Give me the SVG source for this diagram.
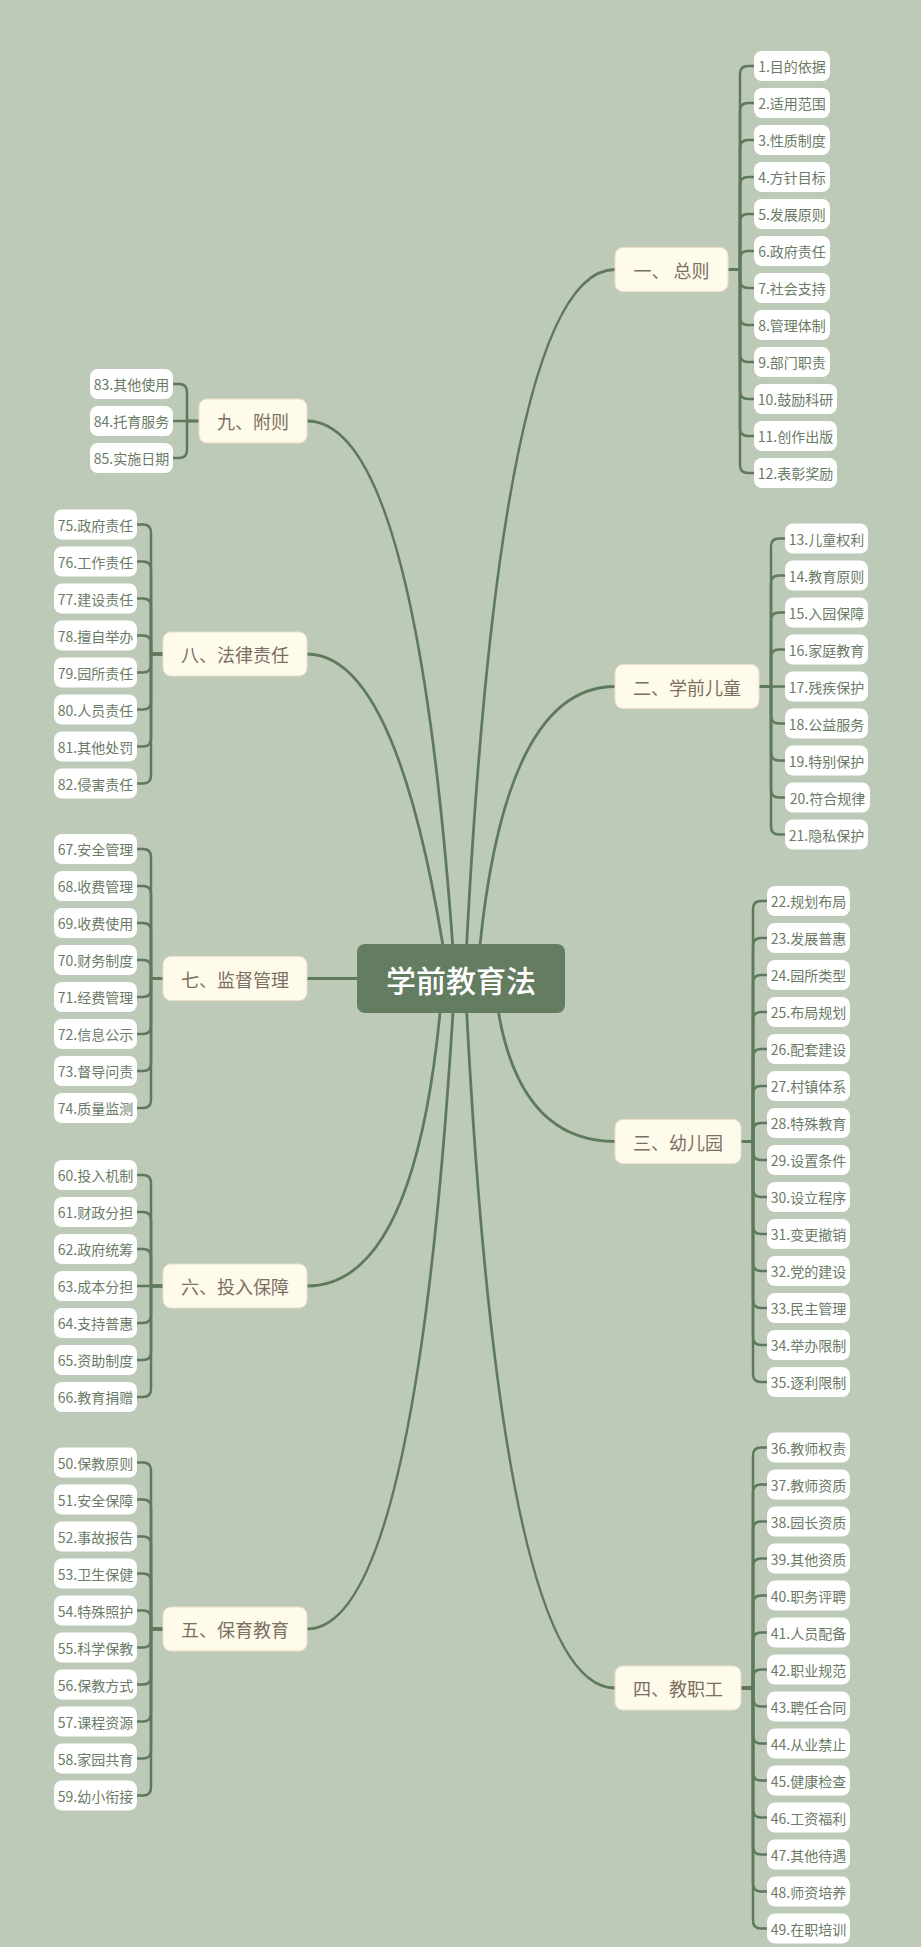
<svg xmlns="http://www.w3.org/2000/svg" width="921" height="1947" viewBox="0 0 921 1947">
<style>
text{font-family:"Noto Sans CJK SC","Noto Sans",sans-serif;dominant-baseline:central;text-anchor:middle}
.conn path{fill:none;stroke:#5f7a5b;stroke-width:2.5;stroke-linecap:round;stroke-linejoin:round}
.main path{fill:none;stroke:#5f7a5b;stroke-width:2.8;stroke-linecap:round}
.leaf rect{fill:#ffffff}
.leaf text{font-size:14px;fill:#6a7b66}
.branch rect{fill:#fffbea;stroke:#ecdfc6;stroke-width:1}
.branch text{font-size:18px;fill:#7b6f63}
</style>
<rect width="921" height="1947" fill="#bdcab8"/>
<g id="connectors">
<g class="main">
<path d="M465 978Q499 269.5 615 269.5"/>
<path d="M477 978Q500 686.5 615 686.5"/>
<path d="M494 978Q509 1141.5 615 1141.5"/>
<path d="M465 978Q499 1688 615 1688"/>
<path d="M455 978Q418 421 307 421"/>
<path d="M448 978Q400 654 307 654"/>
<path d="M357 978.5H307"/>
<path d="M443 978Q420 1286 307 1286"/>
<path d="M455 978Q418 1629 307 1629"/>
</g>
<g class="conn">
<path d="M728 269.5H740V74Q740 66 748 66H754"/>
<path d="M728 269.5H740V111Q740 103 748 103H754"/>
<path d="M728 269.5H740V148Q740 140 748 140H754"/>
<path d="M728 269.5H740V185Q740 177 748 177H754"/>
<path d="M728 269.5H740V222Q740 214 748 214H754"/>
<path d="M728 269.5H740V259Q740 251 748 251H754"/>
<path d="M728 269.5H740V280Q740 288 748 288H754"/>
<path d="M728 269.5H740V317Q740 325 748 325H754"/>
<path d="M728 269.5H740V354Q740 362 748 362H754"/>
<path d="M728 269.5H740V391Q740 399 748 399H754"/>
<path d="M728 269.5H740V428Q740 436 748 436H754"/>
<path d="M728 269.5H740V465Q740 473 748 473H754"/>

<path d="M759 686.5H771V546.5Q771 538.5 779 538.5H785"/>
<path d="M759 686.5H771V583.5Q771 575.5 779 575.5H785"/>
<path d="M759 686.5H771V620.5Q771 612.5 779 612.5H785"/>
<path d="M759 686.5H771V657.5Q771 649.5 779 649.5H785"/>
<path d="M759 686.5H785"/>
<path d="M759 686.5H771V715.5Q771 723.5 779 723.5H785"/>
<path d="M759 686.5H771V752.5Q771 760.5 779 760.5H785"/>
<path d="M759 686.5H771V789.5Q771 797.5 779 797.5H785"/>
<path d="M759 686.5H771V826.5Q771 834.5 779 834.5H785"/>

<path d="M741 1141.5H753V909Q753 901 761 901H767"/>
<path d="M741 1141.5H753V946Q753 938 761 938H767"/>
<path d="M741 1141.5H753V983Q753 975 761 975H767"/>
<path d="M741 1141.5H753V1020Q753 1012 761 1012H767"/>
<path d="M741 1141.5H753V1057Q753 1049 761 1049H767"/>
<path d="M741 1141.5H753V1094Q753 1086 761 1086H767"/>
<path d="M741 1141.5H753V1131Q753 1123 761 1123H767"/>
<path d="M741 1141.5H753V1152Q753 1160 761 1160H767"/>
<path d="M741 1141.5H753V1189Q753 1197 761 1197H767"/>
<path d="M741 1141.5H753V1226Q753 1234 761 1234H767"/>
<path d="M741 1141.5H753V1263Q753 1271 761 1271H767"/>
<path d="M741 1141.5H753V1300Q753 1308 761 1308H767"/>
<path d="M741 1141.5H753V1337Q753 1345 761 1345H767"/>
<path d="M741 1141.5H753V1374Q753 1382 761 1382H767"/>

<path d="M741 1688H753V1455.5Q753 1447.5 761 1447.5H767"/>
<path d="M741 1688H753V1492.5Q753 1484.5 761 1484.5H767"/>
<path d="M741 1688H753V1529.5Q753 1521.5 761 1521.5H767"/>
<path d="M741 1688H753V1566.5Q753 1558.5 761 1558.5H767"/>
<path d="M741 1688H753V1603.5Q753 1595.5 761 1595.5H767"/>
<path d="M741 1688H753V1640.5Q753 1632.5 761 1632.5H767"/>
<path d="M741 1688H753V1677.5Q753 1669.5 761 1669.5H767"/>
<path d="M741 1688H753V1698.5Q753 1706.5 761 1706.5H767"/>
<path d="M741 1688H753V1735.5Q753 1743.5 761 1743.5H767"/>
<path d="M741 1688H753V1772.5Q753 1780.5 761 1780.5H767"/>
<path d="M741 1688H753V1809.5Q753 1817.5 761 1817.5H767"/>
<path d="M741 1688H753V1846.5Q753 1854.5 761 1854.5H767"/>
<path d="M741 1688H753V1883.5Q753 1891.5 761 1891.5H767"/>
<path d="M741 1688H753V1920.5Q753 1928.5 761 1928.5H767"/>

<path d="M199 421H187V392Q187 384 179 384H173"/>
<path d="M199 421H173"/>
<path d="M199 421H187V450Q187 458 179 458H173"/>

<path d="M163 654H151V532.5Q151 524.5 143 524.5H137"/>
<path d="M163 654H151V569.5Q151 561.5 143 561.5H137"/>
<path d="M163 654H151V606.5Q151 598.5 143 598.5H137"/>
<path d="M163 654H151V643.5Q151 635.5 143 635.5H137"/>
<path d="M163 654H151V664.5Q151 672.5 143 672.5H137"/>
<path d="M163 654H151V701.5Q151 709.5 143 709.5H137"/>
<path d="M163 654H151V738.5Q151 746.5 143 746.5H137"/>
<path d="M163 654H151V775.5Q151 783.5 143 783.5H137"/>

<path d="M163 978.5H151V857Q151 849 143 849H137"/>
<path d="M163 978.5H151V894Q151 886 143 886H137"/>
<path d="M163 978.5H151V931Q151 923 143 923H137"/>
<path d="M163 978.5H151V968Q151 960 143 960H137"/>
<path d="M163 978.5H151V989Q151 997 143 997H137"/>
<path d="M163 978.5H151V1026Q151 1034 143 1034H137"/>
<path d="M163 978.5H151V1063Q151 1071 143 1071H137"/>
<path d="M163 978.5H151V1100Q151 1108 143 1108H137"/>

<path d="M163 1286H151V1183Q151 1175 143 1175H137"/>
<path d="M163 1286H151V1220Q151 1212 143 1212H137"/>
<path d="M163 1286H151V1257Q151 1249 143 1249H137"/>
<path d="M163 1286H137"/>
<path d="M163 1286H151V1315Q151 1323 143 1323H137"/>
<path d="M163 1286H151V1352Q151 1360 143 1360H137"/>
<path d="M163 1286H151V1389Q151 1397 143 1397H137"/>

<path d="M163 1629H151V1470.5Q151 1462.5 143 1462.5H137"/>
<path d="M163 1629H151V1507.5Q151 1499.5 143 1499.5H137"/>
<path d="M163 1629H151V1544.5Q151 1536.5 143 1536.5H137"/>
<path d="M163 1629H151V1581.5Q151 1573.5 143 1573.5H137"/>
<path d="M163 1629H151V1618.5Q151 1610.5 143 1610.5H137"/>
<path d="M163 1629H151V1639.5Q151 1647.5 143 1647.5H137"/>
<path d="M163 1629H151V1676.5Q151 1684.5 143 1684.5H137"/>
<path d="M163 1629H151V1713.5Q151 1721.5 143 1721.5H137"/>
<path d="M163 1629H151V1750.5Q151 1758.5 143 1758.5H137"/>
<path d="M163 1629H151V1787.5Q151 1795.5 143 1795.5H137"/>
</g>
</g>

<g id="root">
<rect x="357" y="944" width="208" height="69" rx="8" fill="#647c5f"/>
<text x="461" y="978.5" font-size="30" font-weight="500" fill="#ffffff">学前教育法</text>
</g>

<g id="b1" class="branch"><rect x="615" y="247.5" width="113" height="44" rx="8"/><text x="671.5" y="269.5">一、 总则</text></g>
<g id="b2" class="branch"><rect x="615" y="664.5" width="144" height="44" rx="8"/><text x="687" y="686.5">二、学前儿童</text></g>
<g id="b3" class="branch"><rect x="615" y="1119.5" width="126" height="44" rx="8"/><text x="678" y="1141.5">三、幼儿园</text></g>
<g id="b4" class="branch"><rect x="615" y="1666" width="126" height="44" rx="8"/><text x="678" y="1688">四、教职工</text></g>
<g id="b5" class="branch"><rect x="163" y="1607" width="144" height="44" rx="8"/><text x="235" y="1629">五、保育教育</text></g>
<g id="b6" class="branch"><rect x="163" y="1264" width="144" height="44" rx="8"/><text x="235" y="1286">六、投入保障</text></g>
<g id="b7" class="branch"><rect x="163" y="956.5" width="144" height="44" rx="8"/><text x="235" y="978.5">七、监督管理</text></g>
<g id="b8" class="branch"><rect x="163" y="632" width="144" height="44" rx="8"/><text x="235" y="654">八、法律责任</text></g>
<g id="b9" class="branch"><rect x="199" y="399" width="108" height="44" rx="8"/><text x="253" y="421">九、附则</text></g>

<g id="n1" class="leaf"><rect x="754" y="51" width="76" height="30" rx="8"/><text x="792" y="66">1.目的依据</text></g>
<g id="n2" class="leaf"><rect x="754" y="88" width="76" height="30" rx="8"/><text x="792" y="103">2.适用范围</text></g>
<g id="n3" class="leaf"><rect x="754" y="125" width="76" height="30" rx="8"/><text x="792" y="140">3.性质制度</text></g>
<g id="n4" class="leaf"><rect x="754" y="162" width="76" height="30" rx="8"/><text x="792" y="177">4.方针目标</text></g>
<g id="n5" class="leaf"><rect x="754" y="199" width="76" height="30" rx="8"/><text x="792" y="214">5.发展原则</text></g>
<g id="n6" class="leaf"><rect x="754" y="236" width="76" height="30" rx="8"/><text x="792" y="251">6.政府责任</text></g>
<g id="n7" class="leaf"><rect x="754" y="273" width="76" height="30" rx="8"/><text x="792" y="288">7.社会支持</text></g>
<g id="n8" class="leaf"><rect x="754" y="310" width="76" height="30" rx="8"/><text x="792" y="325">8.管理体制</text></g>
<g id="n9" class="leaf"><rect x="754" y="347" width="76" height="30" rx="8"/><text x="792" y="362">9.部门职责</text></g>
<g id="n10" class="leaf"><rect x="754" y="384" width="83" height="30" rx="8"/><text x="795.5" y="399">10.鼓励科研</text></g>
<g id="n11" class="leaf"><rect x="754" y="421" width="83" height="30" rx="8"/><text x="795.5" y="436">11.创作出版</text></g>
<g id="n12" class="leaf"><rect x="754" y="458" width="83" height="30" rx="8"/><text x="795.5" y="473">12.表彰奖励</text></g>

<g id="n13" class="leaf"><rect x="785" y="523.5" width="83" height="30" rx="8"/><text x="826.5" y="538.5">13.儿童权利</text></g>
<g id="n14" class="leaf"><rect x="785" y="560.5" width="83" height="30" rx="8"/><text x="826.5" y="575.5">14.教育原则</text></g>
<g id="n15" class="leaf"><rect x="785" y="597.5" width="83" height="30" rx="8"/><text x="826.5" y="612.5">15.入园保障</text></g>
<g id="n16" class="leaf"><rect x="785" y="634.5" width="83" height="30" rx="8"/><text x="826.5" y="649.5">16.家庭教育</text></g>
<g id="n17" class="leaf"><rect x="785" y="671.5" width="83" height="30" rx="8"/><text x="826.5" y="686.5">17.残疾保护</text></g>
<g id="n18" class="leaf"><rect x="785" y="708.5" width="83" height="30" rx="8"/><text x="826.5" y="723.5">18.公益服务</text></g>
<g id="n19" class="leaf"><rect x="785" y="745.5" width="83" height="30" rx="8"/><text x="826.5" y="760.5">19.特别保护</text></g>
<g id="n20" class="leaf"><rect x="785" y="782.5" width="85" height="30" rx="8"/><text x="827.5" y="797.5">20.符合规律</text></g>
<g id="n21" class="leaf"><rect x="785" y="819.5" width="83" height="30" rx="8"/><text x="826.5" y="834.5">21.隐私保护</text></g>

<g id="n22" class="leaf"><rect x="767" y="886" width="83" height="30" rx="8"/><text x="808.5" y="901">22.规划布局</text></g>
<g id="n23" class="leaf"><rect x="767" y="923" width="83" height="30" rx="8"/><text x="808.5" y="938">23.发展普惠</text></g>
<g id="n24" class="leaf"><rect x="767" y="960" width="83" height="30" rx="8"/><text x="808.5" y="975">24.园所类型</text></g>
<g id="n25" class="leaf"><rect x="767" y="997" width="83" height="30" rx="8"/><text x="808.5" y="1012">25.布局规划</text></g>
<g id="n26" class="leaf"><rect x="767" y="1034" width="83" height="30" rx="8"/><text x="808.5" y="1049">26.配套建设</text></g>
<g id="n27" class="leaf"><rect x="767" y="1071" width="83" height="30" rx="8"/><text x="808.5" y="1086">27.村镇体系</text></g>
<g id="n28" class="leaf"><rect x="767" y="1108" width="83" height="30" rx="8"/><text x="808.5" y="1123">28.特殊教育</text></g>
<g id="n29" class="leaf"><rect x="767" y="1145" width="83" height="30" rx="8"/><text x="808.5" y="1160">29.设置条件</text></g>
<g id="n30" class="leaf"><rect x="767" y="1182" width="83" height="30" rx="8"/><text x="808.5" y="1197">30.设立程序</text></g>
<g id="n31" class="leaf"><rect x="767" y="1219" width="83" height="30" rx="8"/><text x="808.5" y="1234">31.变更撤销</text></g>
<g id="n32" class="leaf"><rect x="767" y="1256" width="83" height="30" rx="8"/><text x="808.5" y="1271">32.党的建设</text></g>
<g id="n33" class="leaf"><rect x="767" y="1293" width="83" height="30" rx="8"/><text x="808.5" y="1308">33.民主管理</text></g>
<g id="n34" class="leaf"><rect x="767" y="1330" width="83" height="30" rx="8"/><text x="808.5" y="1345">34.举办限制</text></g>
<g id="n35" class="leaf"><rect x="767" y="1367" width="83" height="30" rx="8"/><text x="808.5" y="1382">35.逐利限制</text></g>

<g id="n36" class="leaf"><rect x="767" y="1432.5" width="83" height="30" rx="8"/><text x="808.5" y="1447.5">36.教师权责</text></g>
<g id="n37" class="leaf"><rect x="767" y="1469.5" width="83" height="30" rx="8"/><text x="808.5" y="1484.5">37.教师资质</text></g>
<g id="n38" class="leaf"><rect x="767" y="1506.5" width="83" height="30" rx="8"/><text x="808.5" y="1521.5">38.园长资质</text></g>
<g id="n39" class="leaf"><rect x="767" y="1543.5" width="83" height="30" rx="8"/><text x="808.5" y="1558.5">39.其他资质</text></g>
<g id="n40" class="leaf"><rect x="767" y="1580.5" width="83" height="30" rx="8"/><text x="808.5" y="1595.5">40.职务评聘</text></g>
<g id="n41" class="leaf"><rect x="767" y="1617.5" width="83" height="30" rx="8"/><text x="808.5" y="1632.5">41.人员配备</text></g>
<g id="n42" class="leaf"><rect x="767" y="1654.5" width="83" height="30" rx="8"/><text x="808.5" y="1669.5">42.职业规范</text></g>
<g id="n43" class="leaf"><rect x="767" y="1691.5" width="83" height="30" rx="8"/><text x="808.5" y="1706.5">43.聘任合同</text></g>
<g id="n44" class="leaf"><rect x="767" y="1728.5" width="83" height="30" rx="8"/><text x="808.5" y="1743.5">44.从业禁止</text></g>
<g id="n45" class="leaf"><rect x="767" y="1765.5" width="83" height="30" rx="8"/><text x="808.5" y="1780.5">45.健康检查</text></g>
<g id="n46" class="leaf"><rect x="767" y="1802.5" width="83" height="30" rx="8"/><text x="808.5" y="1817.5">46.工资福利</text></g>
<g id="n47" class="leaf"><rect x="767" y="1839.5" width="83" height="30" rx="8"/><text x="808.5" y="1854.5">47.其他待遇</text></g>
<g id="n48" class="leaf"><rect x="767" y="1876.5" width="83" height="30" rx="8"/><text x="808.5" y="1891.5">48.师资培养</text></g>
<g id="n49" class="leaf"><rect x="767" y="1913.5" width="83" height="30" rx="8"/><text x="808.5" y="1928.5">49.在职培训</text></g>

<g id="n50" class="leaf"><rect x="54" y="1447.5" width="83" height="30" rx="8"/><text x="95.5" y="1462.5">50.保教原则</text></g>
<g id="n51" class="leaf"><rect x="54" y="1484.5" width="83" height="30" rx="8"/><text x="95.5" y="1499.5">51.安全保障</text></g>
<g id="n52" class="leaf"><rect x="54" y="1521.5" width="83" height="30" rx="8"/><text x="95.5" y="1536.5">52.事故报告</text></g>
<g id="n53" class="leaf"><rect x="54" y="1558.5" width="83" height="30" rx="8"/><text x="95.5" y="1573.5">53.卫生保健</text></g>
<g id="n54" class="leaf"><rect x="54" y="1595.5" width="83" height="30" rx="8"/><text x="95.5" y="1610.5">54.特殊照护</text></g>
<g id="n55" class="leaf"><rect x="54" y="1632.5" width="83" height="30" rx="8"/><text x="95.5" y="1647.5">55.科学保教</text></g>
<g id="n56" class="leaf"><rect x="54" y="1669.5" width="83" height="30" rx="8"/><text x="95.5" y="1684.5">56.保教方式</text></g>
<g id="n57" class="leaf"><rect x="54" y="1706.5" width="83" height="30" rx="8"/><text x="95.5" y="1721.5">57.课程资源</text></g>
<g id="n58" class="leaf"><rect x="54" y="1743.5" width="83" height="30" rx="8"/><text x="95.5" y="1758.5">58.家园共育</text></g>
<g id="n59" class="leaf"><rect x="54" y="1780.5" width="83" height="30" rx="8"/><text x="95.5" y="1795.5">59.幼小衔接</text></g>

<g id="n60" class="leaf"><rect x="54" y="1160" width="83" height="30" rx="8"/><text x="95.5" y="1175">60.投入机制</text></g>
<g id="n61" class="leaf"><rect x="54" y="1197" width="83" height="30" rx="8"/><text x="95.5" y="1212">61.财政分担</text></g>
<g id="n62" class="leaf"><rect x="54" y="1234" width="83" height="30" rx="8"/><text x="95.5" y="1249">62.政府统筹</text></g>
<g id="n63" class="leaf"><rect x="54" y="1271" width="83" height="30" rx="8"/><text x="95.5" y="1286">63.成本分担</text></g>
<g id="n64" class="leaf"><rect x="54" y="1308" width="83" height="30" rx="8"/><text x="95.5" y="1323">64.支持普惠</text></g>
<g id="n65" class="leaf"><rect x="54" y="1345" width="83" height="30" rx="8"/><text x="95.5" y="1360">65.资助制度</text></g>
<g id="n66" class="leaf"><rect x="54" y="1382" width="83" height="30" rx="8"/><text x="95.5" y="1397">66.教育捐赠</text></g>

<g id="n67" class="leaf"><rect x="54" y="834" width="83" height="30" rx="8"/><text x="95.5" y="849">67.安全管理</text></g>
<g id="n68" class="leaf"><rect x="54" y="871" width="83" height="30" rx="8"/><text x="95.5" y="886">68.收费管理</text></g>
<g id="n69" class="leaf"><rect x="54" y="908" width="83" height="30" rx="8"/><text x="95.5" y="923">69.收费使用</text></g>
<g id="n70" class="leaf"><rect x="54" y="945" width="83" height="30" rx="8"/><text x="95.5" y="960">70.财务制度</text></g>
<g id="n71" class="leaf"><rect x="54" y="982" width="83" height="30" rx="8"/><text x="95.5" y="997">71.经费管理</text></g>
<g id="n72" class="leaf"><rect x="54" y="1019" width="83" height="30" rx="8"/><text x="95.5" y="1034">72.信息公示</text></g>
<g id="n73" class="leaf"><rect x="54" y="1056" width="83" height="30" rx="8"/><text x="95.5" y="1071">73.督导问责</text></g>
<g id="n74" class="leaf"><rect x="54" y="1093" width="83" height="30" rx="8"/><text x="95.5" y="1108">74.质量监测</text></g>

<g id="n75" class="leaf"><rect x="54" y="509.5" width="83" height="30" rx="8"/><text x="95.5" y="524.5">75.政府责任</text></g>
<g id="n76" class="leaf"><rect x="54" y="546.5" width="83" height="30" rx="8"/><text x="95.5" y="561.5">76.工作责任</text></g>
<g id="n77" class="leaf"><rect x="54" y="583.5" width="83" height="30" rx="8"/><text x="95.5" y="598.5">77.建设责任</text></g>
<g id="n78" class="leaf"><rect x="54" y="620.5" width="83" height="30" rx="8"/><text x="95.5" y="635.5">78.擅自举办</text></g>
<g id="n79" class="leaf"><rect x="54" y="657.5" width="83" height="30" rx="8"/><text x="95.5" y="672.5">79.园所责任</text></g>
<g id="n80" class="leaf"><rect x="54" y="694.5" width="83" height="30" rx="8"/><text x="95.5" y="709.5">80.人员责任</text></g>
<g id="n81" class="leaf"><rect x="54" y="731.5" width="83" height="30" rx="8"/><text x="95.5" y="746.5">81.其他处罚</text></g>
<g id="n82" class="leaf"><rect x="54" y="768.5" width="83" height="30" rx="8"/><text x="95.5" y="783.5">82.侵害责任</text></g>

<g id="n83" class="leaf"><rect x="90" y="369" width="83" height="30" rx="8"/><text x="131.5" y="384">83.其他使用</text></g>
<g id="n84" class="leaf"><rect x="90" y="406" width="83" height="30" rx="8"/><text x="131.5" y="421">84.托育服务</text></g>
<g id="n85" class="leaf"><rect x="90" y="443" width="83" height="30" rx="8"/><text x="131.5" y="458">85.实施日期</text></g>
</svg>
